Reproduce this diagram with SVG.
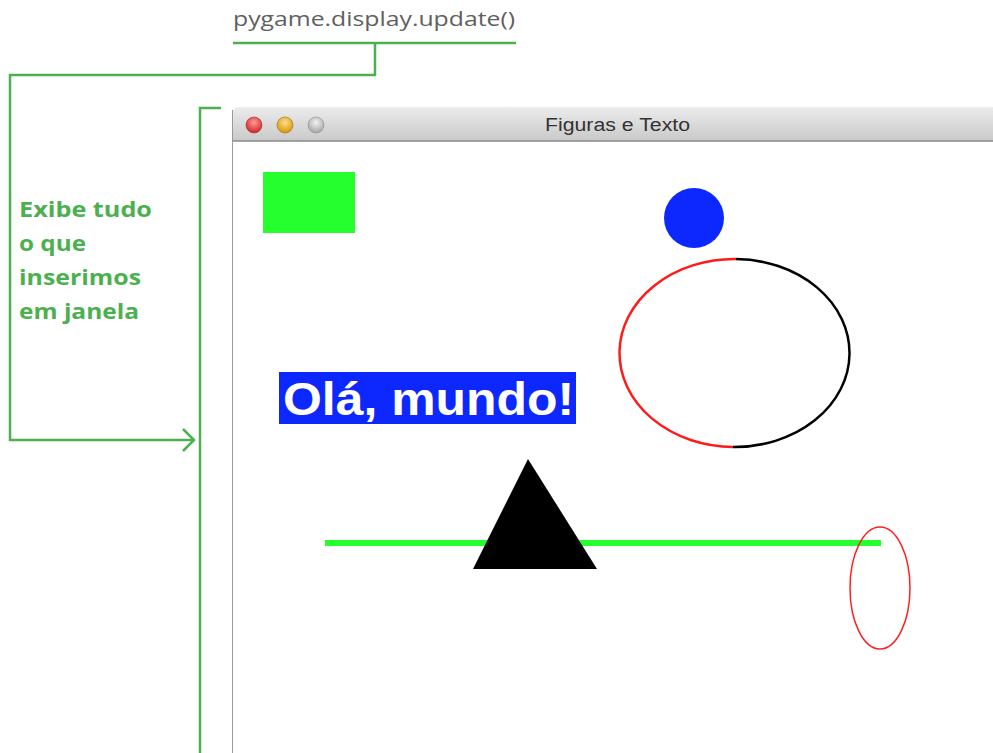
<svg xmlns="http://www.w3.org/2000/svg" width="993" height="753" viewBox="0 0 993 753">
<defs>
<linearGradient id="tb" x1="0" y1="0" x2="0" y2="1">
<stop offset="0" stop-color="#ececec"/>
<stop offset="1" stop-color="#c9c9c9"/>
</linearGradient>
<radialGradient id="rl" cx="0.5" cy="0.35" r="0.6"><stop offset="0" stop-color="#ff9a9a"/><stop offset="1" stop-color="#d42a2a"/></radialGradient>
<radialGradient id="yl" cx="0.5" cy="0.35" r="0.6"><stop offset="0" stop-color="#ffe08a"/><stop offset="1" stop-color="#d99a10"/></radialGradient>
<radialGradient id="gl" cx="0.5" cy="0.35" r="0.6"><stop offset="0" stop-color="#f2f2f2"/><stop offset="1" stop-color="#a9a9a9"/></radialGradient>
</defs>
<style>
.conn{fill:none;stroke:#4cb050;stroke-width:2.5}
.lbl{font-family:"Open Sans","Liberation Sans",sans-serif;font-weight:bold;font-size:22px;fill:#4cb050}
</style>
<rect width="993" height="753" fill="#ffffff"/>
<g id="code-label">
<text x="233" y="26" font-family="'Open Sans','Liberation Sans',sans-serif" font-size="20" fill="#606060" textLength="282" lengthAdjust="spacingAndGlyphs">pygame.display.update()</text>
</g>
<g id="annotation">
<text class="lbl" x="19" y="217" textLength="133" lengthAdjust="spacingAndGlyphs">Exibe tudo</text>
<text class="lbl" x="19" y="251" textLength="67" lengthAdjust="spacingAndGlyphs">o que</text>
<text class="lbl" x="19" y="285" textLength="122" lengthAdjust="spacingAndGlyphs">inserimos</text>
<text class="lbl" x="19" y="319" textLength="120" lengthAdjust="spacingAndGlyphs">em janela</text>
</g>
<g id="window">
<path d="M232,114 Q232,107 239,107 L993,107 L993,141 L232,141 Z" fill="url(#tb)"/>
<line x1="232" y1="141" x2="993" y2="141" stroke="#8a8a8a" stroke-width="1.5"/>
<line x1="232.5" y1="110" x2="232.5" y2="753" stroke="#9a9a9a" stroke-width="1"/>
<circle cx="254" cy="125" r="8" fill="url(#rl)" stroke="#a03030" stroke-width="0.6"/>
<circle cx="285" cy="125" r="8" fill="url(#yl)" stroke="#a07010" stroke-width="0.6"/>
<circle cx="316" cy="125" r="8" fill="url(#gl)" stroke="#909090" stroke-width="0.6"/>
<text x="545" y="131" font-family="'Liberation Sans','DejaVu Sans',sans-serif" font-size="18" fill="#333333" textLength="145" lengthAdjust="spacingAndGlyphs">Figuras e Texto</text>
</g>
<g id="scene">
<rect x="263" y="172" width="92" height="61" fill="#26ff2e"/>
<circle cx="694" cy="218" r="30" fill="#0d28ff"/>
<path d="M736,259 A115,94 0 0 0 733,447" fill="none" stroke="#ff1a1a" stroke-width="2.5"/>
<path d="M736,259 A115,94 0 0 1 733,447" fill="none" stroke="#000000" stroke-width="2.5"/>
<rect x="279" y="372" width="297" height="52" fill="#0d28ff"/>
<text x="283" y="415" font-family="'Liberation Sans',Arial,sans-serif" font-weight="bold" font-size="46" fill="#ffffff" textLength="291" lengthAdjust="spacingAndGlyphs">Olá, mundo!</text>
<line x1="325" y1="543" x2="881" y2="543" stroke="#26ff2e" stroke-width="6"/>
<polygon points="528,459 597,569 473,569" fill="#000000"/>
<ellipse cx="880" cy="588" rx="30" ry="61" fill="none" stroke="#ff2020" stroke-width="1.5"/>
</g>
<g id="connectors">
<line class="conn" x1="233" y1="43" x2="516" y2="43"/>
<polyline class="conn" points="375,43 375,75 10,75 10,440 193,440"/>
<polyline class="conn" points="183,429 194,440 183,451"/>
<polyline class="conn" points="221,108 200,108 200,753"/>
</g>
</svg>
